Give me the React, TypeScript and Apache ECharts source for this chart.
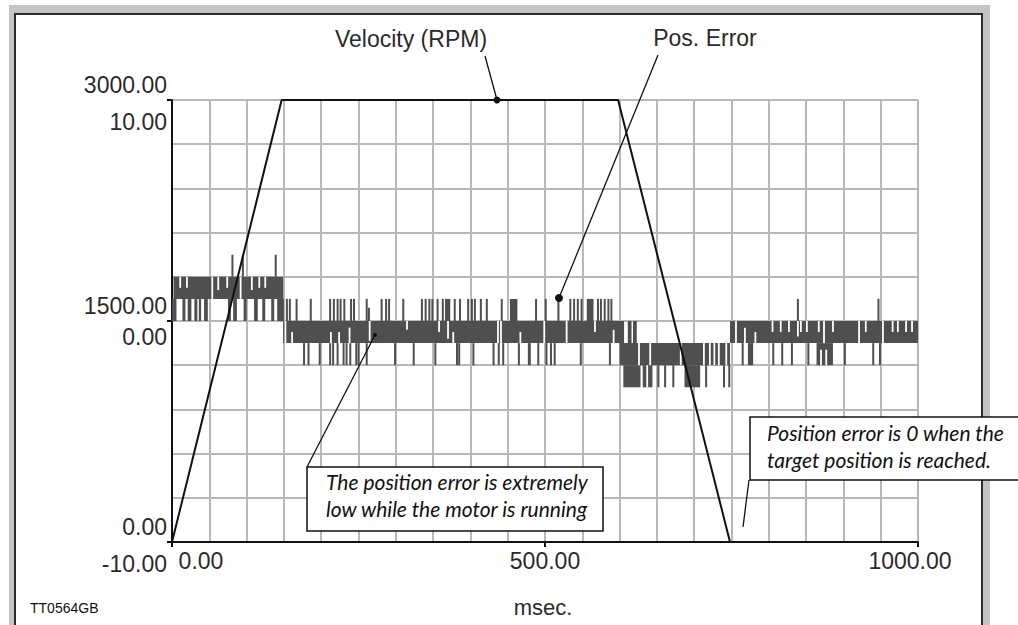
import { useEffect, useRef } from 'react';
import * as echarts from 'echarts';

// ---- data ----
const timeLabelTicks = [0, 500, 1000];
const velocityTime = [0, 147, 598, 748, 1000];
const velocityRpm = [0, 3000, 3000, 0, 0];

// dense oscillation regions of the position error: [tStart, tEnd, low, high]
const posBands = [
  [2, 149, 1, 2],
  [0, 6, 0, 1], [14, 18, 0, 1], [21, 26, 0, 1], [30, 34, 0, 1], [36, 39, 0, 1], [43, 48, 0, 1],
  [75, 79, 0, 1], [82, 87, 0, 1], [96, 100, 0, 1], [110, 115, 0, 1], [121, 125, 0, 1],
  [133, 137, 0, 1], [141, 150, 0, 1],
  [149, 603, -1, 0],
  [366, 373, 0, 1], [453, 463, 0, 1], [556, 565, 0, 1],
  [477, 481, -2, -1],
  [600, 748, -2, -1],
  [600, 606, -1, 0], [611, 616, -1, 0], [618, 623, -1, 0],
  [605, 628, -3, -2], [631, 644, -3, -2], [687, 708, -3, -2],
  [748, 1000, -1, 0],
  [772, 779, -2, -1], [864, 886, -2, -1],
];

// single-sample excursions: [t, low, high]
const posSpikes = [
  [81, 2, 3], [95, 2, 3], [139, 2, 3],
  [154, 0, 1], [158, 0, 1], [167, 0, 1], [186, 0, 1], [212, 0, 1], [217, 0, 1], [222, 0, 1],
  [226, 0, 1], [231, 0, 1], [240, 0, 1], [244, 0, 1], [261, 0, 1], [264, 0, 0.6], [281, 0, 1],
  [287, 0, 1], [291, 0, 1], [310, 0, 1], [335, 0, 1], [340, 0, 1], [345, 0, 1], [349, 0, 1],
  [356, 0, 1], [363, 0, 1], [379, 0, 1], [386, 0, 1], [397, 0, 1], [402, 0, 1], [406, 0, 1],
  [414, 0, 1], [422, 0, 1], [442, 0, 1], [488, 0, 1], [501, 0, 1], [518, 0, 1], [534, 0, 1],
  [539, 0, 1], [544, 0, 1], [549, 0, 1], [571, 0, 1], [575, 0, 1], [580, 0, 1], [585, 0, 1],
  [589, 0, 1],
  [177, -2, -1], [183, -2, -1], [198, -2, -1], [212, -2, -1], [216, -2, -1], [222, -2, -1],
  [230, -2, -1], [234, -2, -1], [239, -2, -1], [247, -2, -1], [250, -2, -1], [261, -2, -1],
  [299, -2, -1], [324, -2, -1], [353, -2, -1], [382, -2, -1], [385, -2, -1], [404, -2, -1],
  [431, -2, -1], [438, -2, -1], [444, -2, -1], [465, -2, -1], [491, -2, -1], [502, -2, -1],
  [508, -2, -1], [513, -2, -1], [548, -2, -1], [587, -2, -1],
  [652, -3, -2], [661, -3, -2], [672, -3, -2], [716, -3, -2], [740, -3, -2], [747, -3, -2],
  [839, 0, 1], [947, 0, 1],
  [765, -2, -1], [806, -2, -1], [818, -2, -1], [831, -2, -1], [853, -2, -1], [902, -2, -1],
  [940, -2, -1], [949, -2, -1],
];

// places where the error holds still inside a band: [t, low, high]
const posGaps = [
  [11, 1.5, 2], [20, 1.5, 2], [54, 1, 2], [62, 1.4, 2], [74, 1.5, 2], [92, 1, 2],
  [107, 1.4, 2], [117, 1.5, 2], [125, 1.5, 2],
  [152, -1, 0], [161, -1, -0.5], [213, -1, -0.5], [224, -1, -0.5], [238, -1, -0.3],
  [265, -0.9, 0], [315, -0.4, 0], [358, -0.5, 0], [370, -0.8, 0], [377, -1, -0.5],
  [437, -1, 0], [441, -1, 0], [467, -1, -0.5], [499, -1, 0], [529, -1, 0], [567, -0.5, 0],
  [592, -1, -0.4],
  [626, -2, -1], [641, -2, -1], [682, -2, -1], [713, -2, -1], [721, -2, -1], [727, -2, -1],
  [733, -2, -1], [743, -2, -1], [637, -3, -2],
  [756, -1, 0], [768, -1, -0.3], [782, -1, -0.5], [805, -0.5, 0], [816, -0.5, 0],
  [827, -0.5, 0], [839, -0.7, 0], [843, -0.5, 0], [851, -0.5, 0], [867, -0.5, 0],
  [874, -1, 0], [886, -0.5, 0], [921, -1, 0], [930, -0.5, 0], [953, -1, 0], [966, -0.5, 0],
  [973, -0.5, 0], [984, -0.5, 0], [992, -0.5, 0], [870, -2, -1.3], [877, -2, -1.3],
];

const SANS = '"Liberation Sans", Arial, sans-serif';
const ITALIC = 'Lato, "Open Sans", sans-serif';
const LABEL_COLOR = '#2a2a2a';
const ERR_COLOR = '#4f4f4f';
const GRID_COLOR = '#b8b8b8';

export default function App() {
  const ref = useRef<HTMLDivElement>(null);

  useEffect(() => {
    const chart = echarts.init(ref.current!, null, { renderer: 'svg' });

    const labelBase = { fontFamily: SANS, fontSize: 23, color: LABEL_COLOR };

    const option: any = {
      animation: false,
      backgroundColor: '#ffffff',
      grid: { left: 172, top: 100, width: 746, height: 442, outerBoundsMode: 'none', containLabel: false },
      xAxis: [
        {
          type: 'value', min: 0, max: 1000, interval: 50,
          axisLine: { show: true, onZero: false, lineStyle: { color: '#111', width: 2 } },
          axisTick: { show: false }, axisLabel: { show: false },
          splitLine: { show: true, lineStyle: { color: GRID_COLOR, width: 2 } },
        },
        {
          type: 'value', min: 0, max: 1000, interval: 500, position: 'bottom',
          axisLine: { show: false },
          axisTick: { show: true, length: 5, lineStyle: { color: '#111', width: 2 } },
          splitLine: { show: false },
          axisLabel: {
            ...labelBase, margin: 7,
            formatter: (v: number) => {
              if (!timeLabelTicks.includes(v)) return '';
              const s = v.toFixed(2);
              if (v === 0) return `{a|${s}}`;
              if (v === 1000) return `{c|${s}}`;
              return `{b|${s}}`;
            },
            rich: {
              a: { ...labelBase, padding: [0, 0, 0, 58] },
              b: { ...labelBase },
              c: { ...labelBase, padding: [0, 16, 0, 0] },
            },
          },
        },
      ],
      yAxis: [
        {
          type: 'value', min: 0, max: 3000, interval: 1500, position: 'left',
          axisLine: { show: true, onZero: false, lineStyle: { color: '#111', width: 2 } },
          axisTick: { show: true, length: 5, lineStyle: { color: '#111', width: 2 } },
          splitLine: { show: false },
          axisLabel: {
            ...labelBase, margin: 5,
            formatter: (v: number) => `{v|${v.toFixed(2)}}`,
            rich: { v: { ...labelBase, padding: [0, 0, 30, 0] } },
          },
        },
        {
          type: 'value', min: -10, max: 10, interval: 2, position: 'left', offset: 0,
          axisLine: { show: false }, axisTick: { show: false },
          splitLine: { show: true, lineStyle: { color: GRID_COLOR, width: 2 } },
          axisLabel: {
            ...labelBase, margin: 5,
            formatter: (v: number) => {
              if (v === 0) return `{m|${v.toFixed(2)}}`;
              if (v === 10 || v === -10) return `{e|${v.toFixed(2)}}`;
              return '';
            },
            rich: {
              m: { ...labelBase, padding: [32, 0, 0, 0] },
              e: { ...labelBase, padding: [44, 0, 0, 0] },
            },
          },
        },
      ],
      series: [
        {
          type: 'custom', name: 'errBands', xAxisIndex: 0, yAxisIndex: 1, clip: false, z: 2,
          data: posBands,
          encode: { x: [0, 1], y: [2, 3] },
          renderItem: (_p: any, api: any) => {
            const a = api.coord([api.value(0), api.value(3)]);
            const b = api.coord([api.value(1), api.value(2)]);
            return {
              type: 'rect',
              shape: { x: a[0], y: a[1], width: Math.max(b[0] - a[0], 1.5), height: b[1] - a[1] },
              style: { fill: ERR_COLOR },
            };
          },
        },
        {
          type: 'custom', name: 'errSpikes', xAxisIndex: 0, yAxisIndex: 1, clip: false, z: 3,
          data: posSpikes,
          encode: { x: 0, y: [1, 2] },
          renderItem: (_p: any, api: any) => {
            const top = api.coord([api.value(0), api.value(2)]);
            const bot = api.coord([api.value(0), api.value(1)]);
            return {
              type: 'rect',
              shape: { x: top[0] - 1, y: top[1], width: 2, height: bot[1] - top[1] },
              style: { fill: ERR_COLOR },
            };
          },
        },
        {
          type: 'custom', name: 'errGaps', xAxisIndex: 0, yAxisIndex: 1, clip: false, z: 4,
          data: posGaps,
          encode: { x: 0, y: [1, 2] },
          renderItem: (_p: any, api: any) => {
            const top = api.coord([api.value(0), api.value(2)]);
            const bot = api.coord([api.value(0), api.value(1)]);
            return {
              type: 'rect',
              shape: { x: top[0] - 0.9, y: top[1], width: 1.8, height: bot[1] - top[1] },
              style: { fill: '#ffffff' },
            };
          },
        },
        {
          type: 'line', name: 'Velocity (RPM)', xAxisIndex: 0, yAxisIndex: 0, z: 6,
          data: velocityTime.map((t, i) => [t, velocityRpm[i]]),
          symbol: 'none',
          lineStyle: { color: '#111', width: 2 },
        },
      ],
      graphic: [
        { type: 'rect', z: -10, silent: true, shape: { x: 9, y: 5, width: 981, height: 640 }, style: { fill: '#c4c4c4' } },
        { type: 'rect', z: -9, silent: true, shape: { x: 15, y: 14, width: 967, height: 640 }, style: { fill: '#ffffff', stroke: '#2b2b2b', lineWidth: 2 } },
        { type: 'text', z: 50, x: 411, y: 39, style: { text: 'Velocity (RPM)', fontFamily: SANS, fontSize: 23, fill: LABEL_COLOR, align: 'center', verticalAlign: 'middle' } },
        { type: 'text', z: 50, x: 705, y: 38, style: { text: 'Pos. Error', fontFamily: SANS, fontSize: 23, fill: LABEL_COLOR, align: 'center', verticalAlign: 'middle' } },
        { type: 'text', z: 50, x: 543, y: 607, style: { text: 'msec.', fontFamily: SANS, fontSize: 22, fill: LABEL_COLOR, align: 'center', verticalAlign: 'middle' } },
        { type: 'text', z: 50, x: 30, y: 608, style: { text: 'TT0564GB', fontFamily: SANS, fontSize: 14, fill: '#111', align: 'left', verticalAlign: 'middle' } },
        { type: 'line', z: 50, shape: { x1: 485, y1: 56, x2: 497, y2: 100 }, style: { stroke: '#111', lineWidth: 1.3 } },
        { type: 'circle', z: 50, shape: { cx: 497, cy: 100, r: 3.5 }, style: { fill: '#111' } },
        { type: 'line', z: 50, shape: { x1: 658, y1: 55, x2: 559, y2: 298 }, style: { stroke: '#111', lineWidth: 1.3 } },
        { type: 'circle', z: 50, shape: { cx: 559, cy: 298, r: 4 }, style: { fill: '#111' } },
        { type: 'line', z: 50, shape: { x1: 307, y1: 467, x2: 375, y2: 335 }, style: { stroke: '#111', lineWidth: 1.3 } },
        { type: 'circle', z: 50, shape: { cx: 375, cy: 335, r: 2 }, style: { fill: '#111' } },
        { type: 'rect', z: 60, shape: { x: 307, y: 467, width: 296, height: 64 }, style: { fill: '#ffffff', stroke: '#111', lineWidth: 1.5 } },
        { type: 'text', z: 61, x: 326, y: 468, style: { text: 'The position error is extremely\nlow while the motor is running', fontFamily: ITALIC, fontStyle: 'italic', fontSize: 21, lineHeight: 27, fill: '#111', align: 'left', verticalAlign: 'top' } },
        { type: 'line', z: 50, shape: { x1: 749, y1: 480, x2: 743, y2: 527 }, style: { stroke: '#111', lineWidth: 1.3 } },
        { type: 'rect', z: 60, shape: { x: 750, y: 417, width: 300, height: 63 }, style: { fill: '#ffffff', stroke: '#111', lineWidth: 1.5 } },
        { type: 'text', z: 61, x: 767, y: 419, style: { text: 'Position error is 0 when the\ntarget position is reached.', fontFamily: ITALIC, fontStyle: 'italic', fontSize: 21, lineHeight: 27, fill: '#111', align: 'left', verticalAlign: 'top' } },
      ],
    };

    chart.setOption(option);
    return () => chart.dispose();
  }, []);

  return (
    <div
      ref={ref}
      style={{ position: 'fixed', left: 0, top: 0, width: 1018, height: 625, background: '#fff' }}
    />
  );
}
